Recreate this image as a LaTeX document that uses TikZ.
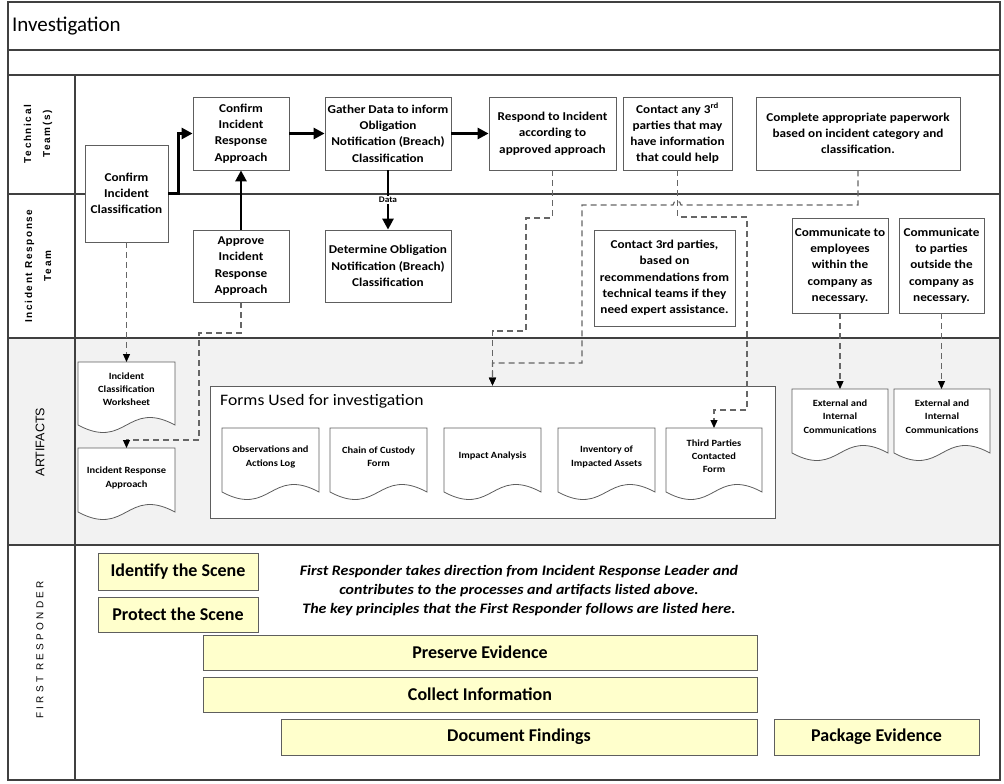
\documentclass[tikz,border=0pt]{standalone}
\usepackage{fontspec}
\setmainfont{Carlito}
\newfontfamily\boxfont[FakeStretch=1.1]{Carlito}
\newfontfamily\laneA[LetterSpace=16]{Liberation Sans}
\newfontfamily\laneB[LetterSpace=33]{Liberation Sans}
\newfontfamily\laneC{Liberation Sans}
\usetikzlibrary{arrows.meta}
\definecolor{lanec}{HTML}{404040}
\definecolor{boxline}{HTML}{5E5E5E}
\definecolor{dashc}{HTML}{666666}
\definecolor{artgray}{HTML}{F2F2F2}
\definecolor{fryellow}{HTML}{FFFFCC}
\tikzset{
  proc/.style={draw=boxline, fill=white, line width=0.8pt, align=center,
    font=\boxfont\bfseries\fontsize{12}{16.3}\selectfont, inner sep=1pt},
  doctext/.style={align=center, font=\boxfont\bfseries\fontsize{9.5}{13.2}\selectfont, inner sep=0pt},
  docline/.style={draw=boxline, fill=white, line width=0.8pt},
  frbox/.style={draw=boxline, fill=fryellow, line width=0.8pt,
    font=\bfseries\fontsize{18}{20}\selectfont},
  tharrow/.style={line width=2.6pt, -{Triangle[length=11pt,width=11pt]}},
  dasharrow/.style={draw=dashc, line width=1.2pt, dash pattern=on 6pt off 4pt,
    -{Triangle[length=8pt,width=7pt,color=black]}},
  laneline/.style={draw=lanec, line width=1.3pt},
  lanelabel/.style={rotate=90, align=center, inner sep=0pt},
}
\newcommand{\pbox}[7]{\node[#1, minimum width={(#5-#3)*1pt}, minimum height={(#6-#4)*1pt}] (#2) at ({(#3+#5)/2},{(#4+#6)/2}) {#7};}
\newcommand{\docshape}[7]{%
  \node[minimum width={(#4-#2)*1pt}, minimum height={(#5-#3)*1pt}, inner sep=0pt, outer sep=0pt] (#1) at ({(#2+#4)/2},{(#3+#5)/2}) {};
  \draw[docline] (#2,#3) -- (#4,#3) -- (#4,#5) .. controls ({(#2+#4)/2},{#5-26}) and ({(#2+#4)/2},{#5+26}) .. (#2,#5) -- cycle;
  \node[doctext] (#1-t) at ({(#2+#4)/2},#6) {#7};}
\begin{document}
\begin{tikzpicture}[x=1pt,y=-1pt]
\useasboundingbox (0,0) rectangle (1004,784);
% lanes
\fill[white] (0,0) rectangle (1004,784);
\fill[artgray] (8,338) rectangle (1000,545);
\draw[laneline] (8,50) -- (1000,50);
\draw[laneline] (8,75) -- (1000,75);
\draw[laneline] (75,75) -- (75,780);
\draw[laneline] (8,194) -- (1000,194);
\draw[laneline] (8,338) -- (1000,338);
\draw[laneline] (8,545) -- (1000,545);
\draw[laneline] (8,2) rectangle (1000,780);

\node[anchor=base west, inner sep=0pt, font=\fontsize{21}{24}\selectfont] (title) at (12,32) {Investigation};

\node[lanelabel, font=\laneA\bfseries\fontsize{10}{19}\selectfont] (ltech) at (38,134) {Technical\\Team(s)};
\node[lanelabel, font=\laneA\bfseries\fontsize{10}{19}\selectfont] (lirt) at (38,266) {Incident Response\\Team};
\node[lanelabel, font=\laneC\fontsize{12.5}{15}\selectfont] (lart) at (40,442) {ARTIFACTS};
\node[lanelabel, font=\laneB\fontsize{10}{12}\selectfont] (lfr) at (40,650) {FIRST RESPONDER};

% process boxes
\pbox{proc}{cic}{85}{145}{168}{242}{Confirm\\Incident\\Classification}
\pbox{proc}{cira}{193}{97}{289}{170}{Confirm\\Incident\\Response\\Approach}
\pbox{proc}{gather}{325}{97}{451}{170}{Gather Data to inform\\Obligation\\Notification (Breach)\\Classification}
\pbox{proc}{respond}{489}{97}{616}{170}{Respond to Incident\\according to\\approved approach}
\pbox{proc}{contact}{623}{97}{732}{170}{Contact any 3\textsuperscript{rd}\\parties that may\\have information\\that could help}
\pbox{proc}{paper}{756}{97}{960}{170}{Complete appropriate paperwork\\based on incident category and\\classification.}
\pbox{proc}{apr}{193}{230}{289}{302}{Approve\\Incident\\Response\\Approach}
\pbox{proc}{det}{325}{230}{451}{302}{Determine Obligation\\Notification (Breach)\\Classification}
\pbox{proc}{cthree}{594}{230}{735}{326}{Contact 3rd parties,\\based on\\recommendations from\\technical teams if they\\need expert assistance.}
\pbox{proc}{comma}{792}{218}{888}{313}{Communicate to\\employees\\within the\\company as\\necessary.}
\pbox{proc}{commb}{899}{218}{984}{313}{Communicate\\to parties\\outside the\\company as\\necessary.}

% artifacts
\docshape{icw}{78}{362}{175}{425}{389}{Incident\\Classification\\Worksheet}
\docshape{ira}{78}{448}{175}{512}{478}{Incident Response\\Approach}
\node[draw=boxline, fill=white, line width=0.8pt, minimum width=565pt, minimum height=132pt] (forms) at (492.5,452) {};
\node[anchor=west, inner sep=0pt, font=\boxfont\fontsize{16}{18}\selectfont] (formst) at (220,401) {Forms Used for investigation};
\docshape{obs}{222}{428}{319}{492}{457}{Observations and\\Actions Log}
\docshape{coc}{330}{428}{427}{492}{457}{Chain of Custody\\Form}
\docshape{imp}{444}{428}{541}{492}{456}{Impact Analysis}
\docshape{inv}{558}{428}{655}{492}{457}{Inventory of\\Impacted Assets}
\docshape{tpc}{666}{428}{762}{492}{456}{Third Parties\\Contacted\\Form}
\docshape{exta}{792}{389}{888}{453}{416.5}{External and\\Internal\\Communications}
\docshape{extb}{894}{389}{990}{453}{416.5}{External and\\Internal\\Communications}

% first responder
\pbox{frbox}{ident}{98}{553}{258}{590}{Identify the Scene}
\pbox{frbox}{prot}{98}{597}{258}{632}{Protect the Scene}
\pbox{frbox}{pres}{203}{635}{757}{670}{Preserve Evidence}
\pbox{frbox}{coll}{203}{677}{757}{712}{Collect Information}
\pbox{frbox}{docf}{281}{719}{757}{755}{Document Findings}
\pbox{frbox}{pack}{774}{719}{979}{755}{Package Evidence}
\node[align=center, inner sep=0pt, font=\boxfont\bfseries\itshape\fontsize{14.5}{19}\selectfont] (frnote) at (519,591)
  {First Responder takes direction from Incident Response Leader and\\contributes to the processes and artifacts listed above.\\The key principles that the First Responder follows are listed here.};

% solid connectors
\draw[tharrow] (cic.east) -- ++(10,0) |- (cira.west);
\draw[tharrow] (apr.north) -- (cira.south);
\draw[tharrow] (cira.east) -- (gather.west);
\draw[tharrow] (gather.east) -- (respond.west);
\draw[tharrow] (gather.south) -- node[fill=white, inner sep=1pt, font=\boxfont\bfseries\fontsize{8.5}{9}\selectfont] (datal) {Data} (det.north);

% dashed connectors
\draw[dasharrow] (cic.south) -- (icw.north);
\draw[dasharrow] (apr.south) -- (apr.south |- 0,333) -| (199,440) -| (ira.north);
\draw[dasharrow] (respond.south) -- (respond.south |- 0,218) -| (526,331) -| (forms.north);
\draw[dasharrow] (paper.south) -- (paper.south |- 0,205) -- (681,205) .. controls (681,200) and (673,200) .. (673,205) -- (582,205) |- (forms.north |- 0,363) -- (forms.north);
\draw[dasharrow] (contact.south) -- (contact.south |- 0,217) -| (747,410) -| (tpc.north);
\draw[dasharrow] (comma.south) -- (comma.south |- exta.north);
\draw[dasharrow] (commb.south) -- (commb.south |- extb.north);
\end{tikzpicture}
\end{document}
